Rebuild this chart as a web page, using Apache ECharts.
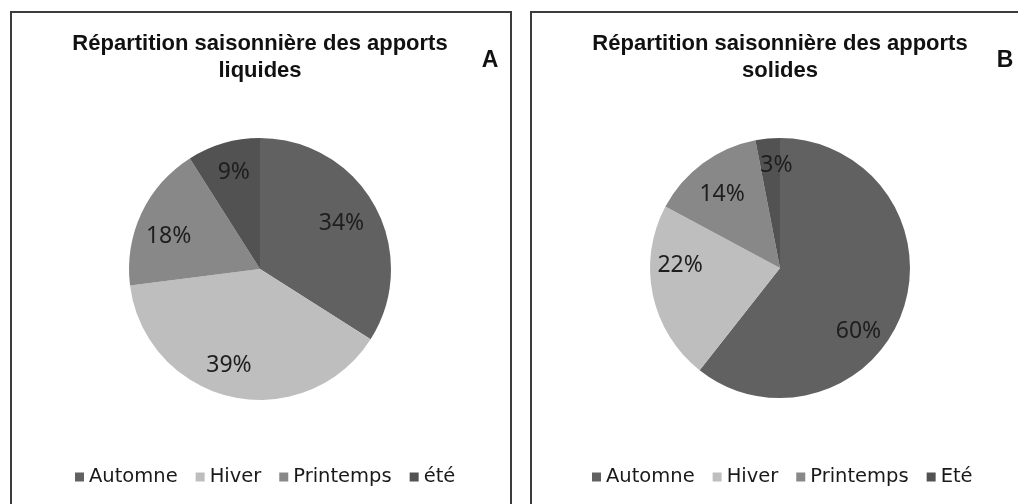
<!DOCTYPE html>
<html>
<head>
<meta charset="utf-8">
<script src="https://cdn.jsdelivr.net/npm/echarts@6/dist/echarts.min.js"></script>
<style>
  html, body { margin: 0; padding: 0; background: #ffffff; }
  #chart { width: 1018px; height: 504px; }
</style>
</head>
<body>
<div id="chart"></div>
<script>
// Seasonal shares (%) of liquid (A) and solid (B) inputs
const seasonsA = ['Automne', 'Hiver', 'Printemps', 'été'];
const seasonsB = ['Automne', 'Hiver', 'Printemps', 'Eté'];
const liquidShares = [34, 39, 18, 9];
const solidShares = [60, 22, 14, 3];
const sliceColors = ['#616161', '#bebebe', '#888888', '#525252'];

// Small per-slice nudges of the percentage labels (best-fit style placement)
const labelNudgeA = [[-7, 3], [-9, -2], [0, 10], [2, 0]];
const labelNudgeB = [[-17, 30], [-1, -23], [2, 8], [6, -2]];

const titleA = 'Répartition saisonnière des apports\nliquides';
const titleB = 'Répartition saisonnière des apports\nsolides';

const chart = echarts.init(document.getElementById('chart'), null, { renderer: 'canvas' });

function wedges(center, radius, names, values) {
  return {
    type: 'pie',
    center: center,
    radius: [0, radius],
    startAngle: 90,
    clockwise: true,
    animation: false,
    label: { show: false },
    labelLine: { show: false },
    emphasis: { disabled: true },
    itemStyle: { borderWidth: 0 },
    data: names.map((n, i) => ({ name: n, value: values[i], itemStyle: { color: sliceColors[i] } }))
  };
}

// Transparent ring carrying the percentage labels, so they sit at ~3/4 of the radius
function labels(center, names, values, nudges) {
  return {
    type: 'pie',
    center: center,
    radius: [66, 130],
    startAngle: 90,
    clockwise: true,
    animation: false,
    silent: true,
    legendHoverLink: false,
    emphasis: { disabled: true },
    labelLine: { show: false },
    label: {
      show: true,
      position: 'inside',
      formatter: p => p.value + '%',
      fontFamily: 'Noto Sans',
      fontSize: 23,
      color: '#1e1e1e'
    },
    itemStyle: { borderWidth: 0 },
    data: names.map((n, i) => ({
      name: n,
      value: values[i],
      itemStyle: { color: 'rgba(0,0,0,0)' },
      label: { offset: nudges[i] }
    }))
  };
}

function legend(left, names) {
  return {
    left: left,
    top: 461,
    itemWidth: 9,
    itemHeight: 9,
    itemGap: 18,
    icon: 'rect',
    selectedMode: false,
    textStyle: { fontFamily: 'DejaVu Sans', fontSize: 19.5, color: '#1a1a1a', lineHeight: 22 },
    data: names.map((n, i) => ({ name: n, itemStyle: { color: sliceColors[i] } }))
  };
}

const titleFont = '700 22px "Liberation Sans", Arial, sans-serif';
const letterFont = '700 23px "Liberation Sans", Arial, sans-serif';

chart.setOption({
  backgroundColor: '#ffffff',
  legend: [legend(70, seasonsA), legend(587, seasonsB)],
  series: [
    wedges([260, 269], 131, seasonsA, liquidShares),
    labels([260, 269], seasonsA, liquidShares, labelNudgeA),
    wedges([780, 268], 130, seasonsB, solidShares),
    labels([780, 268], seasonsB, solidShares, labelNudgeB)
  ],
  graphic: [
    { type: 'rect', shape: { x: 11, y: 12, width: 500, height: 520 },
      style: { fill: 'none', stroke: '#3c3c3c', lineWidth: 2 }, z: -1 },
    { type: 'rect', shape: { x: 531, y: 12, width: 520, height: 520 },
      style: { fill: 'none', stroke: '#3c3c3c', lineWidth: 2 }, z: -1 },
    { type: 'text', x: 260, y: 30,
      style: { text: titleA, font: titleFont, fill: '#111', align: 'center', verticalAlign: 'top', lineHeight: 27 } },
    { type: 'text', x: 780, y: 30,
      style: { text: titleB, font: titleFont, fill: '#111', align: 'center', verticalAlign: 'top', lineHeight: 27 } },
    { type: 'text', x: 490, y: 61,
      style: { text: 'A', font: letterFont, fill: '#111', align: 'center', verticalAlign: 'middle' } },
    { type: 'text', x: 1005, y: 61,
      style: { text: 'B', font: letterFont, fill: '#111', align: 'center', verticalAlign: 'middle' } }
  ]
});
</script>
</body>
</html>
